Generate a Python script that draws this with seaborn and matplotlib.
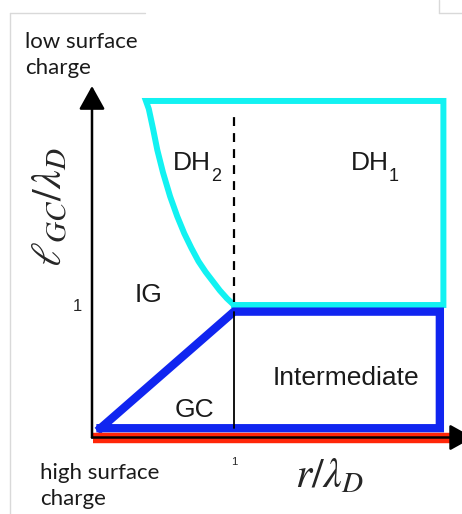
import matplotlib
matplotlib.use("Agg")
import matplotlib.pyplot as plt
import seaborn as sns
from matplotlib.lines import Line2D

sns.set_style("white")
plt.rcParams["font.family"] = ["Liberation Sans", "DejaVu Sans"]

# phase boundaries, in units of r/lambda_D (x) and l_GC/lambda_D (y)
cyan_x = [1.0, 2.475, 2.475, 0.38, 0.40, 0.43, 0.46, 0.50, 0.55, 0.60,
          0.65, 0.70, 0.75, 0.80, 0.85, 0.90, 0.95, 1.0]
cyan_y = [1.0, 1.0, 2.54, 2.54, 2.48, 2.33, 2.17, 2.0, 1.82, 1.67,
          1.54, 1.43, 1.33, 1.25, 1.18, 1.11, 1.05, 1.0]
blue_x = [0.06, 1.0, 2.45, 2.45, 0.06]
blue_y = [0.07, 0.95, 0.95, 0.07, 0.07]
red_x = [0.005, 2.52]
red_y = [-0.005, -0.005]
dash_x = [1.0, 1.0]
dash_y = [1.02, 2.47]
solid_x = [1.0, 1.0]
solid_y = [0.07, 0.95]

regions = ["DH", "DH", "IG", "GC", "Intermediate"]
region_sub = ["2", "1", "", "", ""]
region_x = [0.57, 1.824, 0.303, 0.585, 1.275]
region_y = [2.02, 2.02, 1.023, 0.155, 0.396]

fig = plt.figure(figsize=(4.62, 5.14), dpi=100)
ax = fig.add_axes([92 / 462, 76.5 / 514, 370 / 462, 351.5 / 514])

kw = dict(sort=False, estimator=None, ax=ax, legend=False)
sns.lineplot(x=cyan_x, y=cyan_y, color="#12f2f2", lw=4.3,
             solid_joinstyle="miter", solid_capstyle="projecting", **kw)
sns.lineplot(x=blue_x, y=blue_y, color="#1025f0", lw=6.0,
             solid_joinstyle="miter", solid_capstyle="projecting", **kw)
sns.lineplot(x=solid_x, y=solid_y, color="black", lw=1.3, **kw)
sns.lineplot(x=dash_x, y=dash_y, color="black", lw=1.6, **kw)
ax.lines[-1].set_dashes([4, 3.2])

ax.set_xlim(0, 2.606)
ax.set_ylim(0, 2.653)
for s in ax.spines.values():
    s.set_visible(False)

# axis arrows
arrow = dict(arrowstyle="-|>,head_length=0.72,head_width=0.4", lw=1.8,
             color="black", mutation_scale=20, shrinkA=0, shrinkB=0)
ax.annotate("", xy=(0, 1), xytext=(0, 0), xycoords="axes fraction",
            arrowprops=arrow, annotation_clip=False)
ax.annotate("", xy=(1.03, 0), xytext=(0, 0), xycoords="axes fraction",
            arrowprops=arrow, annotation_clip=False)

sns.lineplot(x=red_x, y=red_y, color="#ff2608", lw=7.5,
             solid_capstyle="butt", **kw)
for ln in ax.lines:
    ln.set_clip_on(False)

ax.set_xticks([1])
ax.set_yticks([1])
ax.set_xticklabels(["1"], fontsize=8)
ax.set_yticklabels(["1"], fontsize=12)
ax.tick_params(axis="y", direction="in", length=5, width=1.2, pad=7)
ax.tick_params(axis="x", direction="in", length=5, width=1.2, pad=14)

for t, sub, x, y in zip(regions, region_sub, region_x, region_y):
    ax.text(x, y, t, fontsize=19, ha="left", va="baseline", color="#1a1a1a")
    if sub:
        ax.annotate(sub, xy=(x, y), xytext=(38, -11), textcoords="offset pixels",
                    fontsize=13, ha="left", va="baseline", color="#1a1a1a")

fig.text(330 / 462, 1 - 476 / 514, r"$r/\lambda_D$", fontsize=30,
         ha="center", va="center", math_fontfamily="stix")
fig.text(51 / 462, 1 - 207 / 514, r"$\ell_{GC}/\lambda_D$", fontsize=30,
         ha="center", va="center", rotation=90, math_fontfamily="stix")

fig.text(25 / 462, 1 - 74 / 514, "low surface\ncharge", fontsize=16,
         family="Lato", ha="left", va="baseline", linespacing=1.35,
         color="#1a1a1a")
fig.text(40 / 462, 1 - 505 / 514, "high surface\ncharge", fontsize=16,
         family="Lato", ha="left", va="baseline", linespacing=1.35,
         color="#1a1a1a")

# faint screenshot frame
for xs, ys in [([10, 10], [13, 514]), ([10, 145], [13, 13]),
               ([439, 439], [0, 13]), ([439, 462], [13, 13])]:
    fig.add_artist(Line2D([v / 462 for v in xs], [1 - v / 514 for v in ys],
                          color="#d9d9d9", lw=1))

fig.savefig("out.png", dpi=100)
